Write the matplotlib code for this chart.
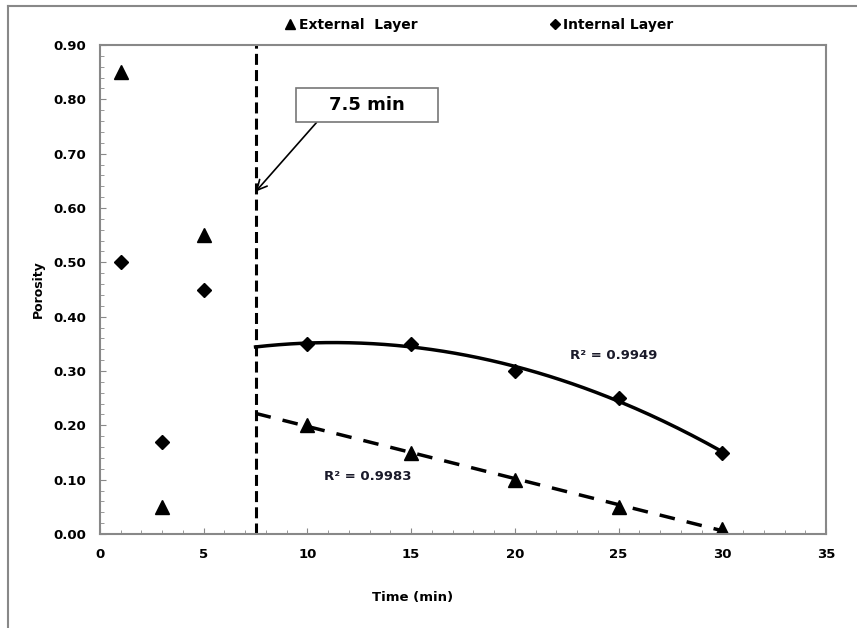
import numpy as np
import matplotlib
matplotlib.use("Agg")
import matplotlib.pyplot as plt
from matplotlib.lines import Line2D
from matplotlib.ticker import MultipleLocator, FormatStrFormatter

# Data
time = [1, 3, 5, 10, 15, 20, 25, 30]
external = [0.85, 0.05, 0.55, 0.20, 0.15, 0.10, 0.05, 0.01]
internal = [0.50, 0.17, 0.45, 0.35, 0.35, 0.30, 0.25, 0.15]
fit_start = 7.5
r2_internal = "R² = 0.9949"
r2_external = "R² = 0.9983"
series_names = ["External  Layer", "Internal Layer"]

plt.rcParams['font.family'] = ['DejaVu Sans']
fig = plt.figure(figsize=(8.57, 6.28), dpi=100)
ax = fig.add_axes([100/857, 1-534/628, 726/857, 489/628])

# outer frame lines
fig.add_artist(Line2D([8/857, 8/857], [0, 1-6/628], transform=fig.transFigure, color='#888888', lw=1.5))
fig.add_artist(Line2D([8/857, 1], [1-6/628, 1-6/628], transform=fig.transFigure, color='#888888', lw=1.5))

t = np.array(time)
e = np.array(external)
i = np.array(internal)
mask = t > fit_start

h1, = ax.plot(t, e, linestyle='none', marker='^', color='black', markersize=10)
h2, = ax.plot(t, i, linestyle='none', marker='D', color='black', markersize=7.5)

xs = np.linspace(fit_start, max(time), 200)
pi = np.polyfit(t[mask], i[mask], 2)
ax.plot(xs, np.polyval(pi, xs), color='black', lw=2.5)
pe = np.polyfit(t[mask], e[mask], 1)
ax.plot(xs, np.polyval(pe, xs), color='black', lw=2.5, linestyle=(0, (4.5, 3.5)))

ax.axvline(fit_start, color='black', lw=2.2, linestyle=(0, (3.6, 1.7)))

ax.annotate("    7.5 min    ", xy=(fit_start, 0.63), xytext=(12.87, 0.79),
            fontsize=13, fontweight='bold', ha='center', va='center',
            bbox=dict(boxstyle='square,pad=0.45', fc='white', ec='#777777', lw=1.2),
            arrowprops=dict(arrowstyle='->', color='black', lw=1.2, relpos=(0.16, 0.0),
                            shrinkA=0, shrinkB=0, mutation_scale=18))

ax.text(24.78, 0.329, r2_internal, fontsize=9.5, fontweight='bold', ha='center', va='center', color='#1a1a2a')
ax.text(12.92, 0.105, r2_external, fontsize=9.5, fontweight='bold', ha='center', va='center', color='#1a1a2a')

ax.set_xlim(0, 35)
ax.set_ylim(0, 0.90)
ax.xaxis.set_major_locator(MultipleLocator(5))
ax.xaxis.set_minor_locator(MultipleLocator(1))
ax.yaxis.set_major_locator(MultipleLocator(0.1))
ax.yaxis.set_minor_locator(MultipleLocator(0.02))
ax.yaxis.set_major_formatter(FormatStrFormatter('%.2f'))
ax.tick_params(which='both', direction='in', color='#888888')
ax.tick_params(which='major', length=4, labelsize=9.5, pad=10)
ax.tick_params(which='minor', length=3)
for lab in ax.get_xticklabels() + ax.get_yticklabels():
    lab.set_fontweight('bold')
for s in ax.spines.values():
    s.set_color('#888888')
    s.set_linewidth(1.5)

fig.text(38/857, 1-289/628, "Porosity", rotation=90, fontsize=9, fontweight='bold', ha='center', va='center')
fig.text(413/857, 1-598/628, "Time (min)", fontsize=9.5, fontweight='bold', ha='center', va='center')

fig.legend([h1, h2], series_names, loc='center', bbox_to_anchor=(479/857, 1-25/628), ncol=2,
           frameon=False, handlelength=0.8, handletextpad=0.2, columnspacing=9.5,
           prop={'weight': 'bold', 'size': 10}, markerscale=0.7)

fig.savefig("out.png", dpi=100)
